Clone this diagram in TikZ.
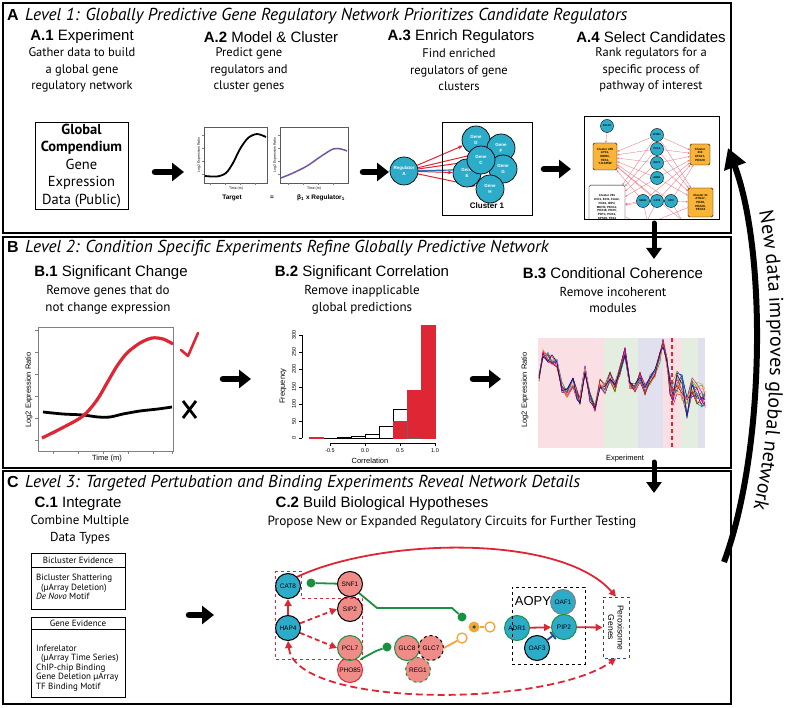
\documentclass[tikz,border=0pt]{standalone}
\usepackage{fontspec}
\setmainfont{PT Sans}
\newfontfamily\arial{Liberation Sans}
\usetikzlibrary{arrows.meta,decorations.text,calc}
\pgfdeclarelayer{behind}
\pgfsetlayers{behind,main}
\definecolor{tealc}{RGB}{45,172,202}
\definecolor{salm}{RGB}{240,140,135}
\definecolor{redc}{RGB}{222,38,52}
\definecolor{greenc}{RGB}{25,145,65}
\definecolor{orangec}{RGB}{245,165,55}
\definecolor{clorange}{RGB}{250,180,55}
\definecolor{lred}{RGB}{240,120,130}
\definecolor{purp}{RGB}{115,85,165}
\definecolor{bgpink}{RGB}{250,224,228}
\definecolor{bggreen}{RGB}{228,238,224}
\definecolor{bglav}{RGB}{224,224,238}
\definecolor{darkblue}{RGB}{40,70,150}
\definecolor{bluec}{RGB}{40,110,185}
\definecolor{dgreen}{RGB}{20,90,40}
\newcommand\fsz[2]{\fontsize{#1}{#2}\selectfont}
\begin{document}
\begin{tikzpicture}[x=1pt,y=-1pt,
  panel/.style={draw=black,line width=1.8pt},
  ptitle/.style={anchor=base west,inner sep=0pt,font=\itshape\fsz{17.3}{19}},
  pletter/.style={anchor=base west,inner sep=0pt,font=\arial\bfseries\fsz{16}{18}},
  hd/.style={inner sep=0pt,font=\arial\fsz{15}{17}},
  body/.style={inner sep=0pt,align=center,font=\fsz{12.5}{16.5}},
  fat/.style={line width=6.5pt,line cap=round,-{Triangle[length=12pt,width=18pt]}},
  vfat/.style={line width=5pt,line cap=round,-{Triangle[length=11pt,width=15pt]}},
  gene/.style={circle,draw=black,line width=0.7pt,fill=tealc,minimum size=28pt,inner sep=0pt,align=center,text=white,font=\arial\bfseries\fsz{4.5}{5.5}},
  tn/.style={circle,draw=black,line width=0.4pt,fill=tealc,minimum size=13pt,inner sep=0pt,font=\arial\bfseries\fsz{2.6}{3}},
  clb/.style={draw=black,line width=0.4pt,rounded corners=1.5pt,fill=clorange,align=center,inner sep=0.6pt,font=\arial\bfseries\fsz{3}{3.7}},
  lr/.style={lred,line width=0.35pt,-{Stealth[length=2.2pt,width=2pt]}},
  rarr/.style={redc,line width=1pt,-{Stealth[length=5pt,width=4pt]}},
  cg/.style={circle,draw=black,line width=1pt,minimum size=25pt,inner sep=0pt,font=\arial\fsz{6.5}{7}},
  cred/.style={redc,line width=1.8pt,-{Triangle[length=7pt,width=7pt]}},
  ball/.style={circle,fill=greenc,minimum size=9pt,inner sep=0pt},
  tiny/.style={inner sep=0pt,font=\arial\fsz{3.5}{4}},
  axl/.style={inner sep=0pt,font=\arial\fsz{7.5}{8}},
  evb/.style={draw=black,line width=0.6pt,minimum width=94pt},
  evt/.style={inner sep=0pt,font=\fsz{9}{9.4}},
]
\begin{pgfonlayer}{behind}
\fill[white] (0,0) rectangle (800,708);
\end{pgfonlayer}
\useasboundingbox (0,0) rectangle (800,708);

% ---------------- panels
\draw[panel] (3,3) rectangle (731,233);
\draw[panel] (3,237) rectangle (731,468);
\draw[panel] (3,471) rectangle (731,704);

% ================= PANEL A
\node[pletter] (la) at (7,21) {A};
\node[ptitle] (ta) at (25,21) {Level 1: Globally Predictive Gene Regulatory Network Prioritizes Candidate Regulators};
\node[hd] (a1h) at (82,37) {\textbf{A.1} Experiment};
\node[hd] (a2h) at (271,37) {\textbf{A.2} Model \& Cluster};
\node[hd] (a3h) at (461,37) {\textbf{A.3} Enrich Regulators};
\node[hd] (a4h) at (651,37) {\textbf{A.4} Select Candidates};
\node[body] (a1t) at (82,70) {Gather data to build\\a global gene\\regulatory network};
\node[body] (a2t) at (249,70) {Predict gene\\regulators and\\cluster genes};
\node[body] (a3t) at (459,70) {Find enriched\\regulators of gene\\clusters};
\node[body] (a4t) at (651,70) {Rank regulators for a\\specific process of\\pathway of interest};

% A.1 box
\node[draw=black,line width=0.7pt,minimum width=93pt,minimum height=87pt,align=center,inner sep=0pt,font=\fsz{14.5}{17.5}] (gc) at (81.5,165.5) {\textbf{Global}\\\textbf{Compendium}\\Gene\\Expression\\Data (Public)};

\coordinate (fa1s) at (155,172); \coordinate (fa1e) at (184,172);
\draw[fat] (fa1s) -- (fa1e);

% A.2 plots
\draw[gray!70!black,line width=0.4pt] (204,127) rectangle (267,183);
\draw[gray!70!black,line width=0.4pt] (280,127) rectangle (348,183);
\foreach \t in {135,148,161,174}{\draw[gray,line width=0.3pt] (204,\t) -- (202,\t); \draw[gray,line width=0.3pt] (280,\t) -- (278,\t);}
\foreach \t in {210,225,240,255}{\draw[gray,line width=0.3pt] (\t,183) -- (\t,185);}
\foreach \t in {288,303,318,333}{\draw[gray,line width=0.3pt] (\t,183) -- (\t,185);}
\draw[black,line width=1.8pt] plot[smooth] coordinates {(205,176) (217,176.5) (226,173) (233,163) (240,149) (248,138) (257,134) (266,137)};
\draw[purp,line width=1.5pt] plot[smooth] coordinates {(281,178) (293,173) (307,166) (320,157) (333,149) (341,149) (347,151)};
\node[tiny,rotate=90] (a2y1) at (199,155) {Log2 Expression Ratio};
\node[tiny,rotate=90] (a2y2) at (275,155) {Log2 Expression Ratio};
\node[tiny] (a2x1) at (236,188.5) {Time (m)};
\node[tiny] (a2x2) at (314,188.5) {Time (m)};
\node[inner sep=0pt,font=\arial\bfseries\fsz{6.5}{7}] (tgt) at (232,198) {Target};
\node[inner sep=0pt,font=\arial\bfseries\fsz{6.5}{7}] (eqs) at (272,198) {=};
\node[inner sep=0pt,font=\arial\bfseries\fsz{6.5}{7}] (breg) at (321,198) {β\textsubscript{1} x Regulator\textsubscript{1}};

\coordinate (fa2s) at (363,172); \coordinate (fa2e) at (389,172);
\draw[fat] (fa2s) -- (fa2e);

% A.3 cluster
\draw[black,line width=0.7pt] (442,122) rectangle (532,215);
\node[inner sep=0pt,font=\arial\bfseries\fsz{8}{9}] (cl1) at (487,206) {Cluster 1};
\node[gene] (rega) at (404,171) {Regulator\\A};
\node[gene] (gD) at (476,140) {Gene\\D};
\node[gene] (gF) at (501,148) {Gene\\F};
\node[gene] (gE) at (467,173) {Gene\\E};
\node[gene] (gG) at (503,169) {Gene\\G};
\node[gene] (gH) at (490,189) {Gene\\H};
\node[gene] (gC) at (481,160) {Gene\\C};
\begin{pgfonlayer}{behind}
\draw[rarr] (rega) -- (gD);
\draw[rarr] (rega) -- (gF);
\draw[rarr] (rega) -- (gC);
\draw[rarr] (rega) -- (gE);
\draw[rarr] (rega) -- (gH);
\draw[bluec,line width=1.2pt] (rega) -- (gG);
\end{pgfonlayer}

\coordinate (fa3s) at (544,169); \coordinate (fa3e) at (571,169);
\draw[fat] (fa3s) -- (fa3e);

% A.4 network
\begin{scope}
\clip (584,117) rectangle (719,220);
\node[tn] (dal) at (607,126) {DAL80};
\node[tn] (wtm) at (657,135) {WTM1};
\node[tn] (pcl) at (657,149) {PCL8};
\node[tn] (rgt) at (657,163) {RGT1};
\node[tn] (adr) at (657,178) {ADR1};
\node[tn] (mbr) at (643,201) {MBR1};
\node[tn] (cat) at (657,201) {CAT8};
\node[tn] (sip) at (671,201) {SIP2};
\node[clb,minimum width=24pt,minimum height=27pt] (c269) at (605,156.5) {Cluster 269\\LPX1,\\MDH3,\\TES1,\\YJL045W};
\node[clb,minimum width=20pt,minimum height=21pt] (c233) at (700,154.5) {Cluster\\233\\ATG17,\\PEX29};
\node[clb,minimum width=25pt,minimum height=29pt] (c31) at (700.5,202.5) {Cluster 31\\ATG17,\\PEX8,\\PEX29,\\PEX34};
\node[clb,fill=white,anchor=north,minimum width=36pt,minimum height=44pt] (c281) at (607,185) {Cluster 281\\DCI1, ECI1, FAA2,\\FOX2, IDP3,\\MDH3, PEX11,\\PEX18, PEX5,\\POT1, POX1,\\SPS19, TES1};
\end{scope}
\begin{pgfonlayer}{behind}
\begin{scope}
\clip (584,117) rectangle (719,220);
\foreach \s in {wtm,pcl,rgt,adr}{\foreach \t in {c269,c233,c31,c281}{\draw[lr] (\s) -- (\t);}}
\foreach \s in {mbr,cat,sip}{\foreach \t in {c269,c233}{\draw[lr] (\s) -- (\t);}}
\draw[lr] (dal) -- (c269);
\draw[lr] (mbr) -- (c281);
\draw[lr] (sip) -- (c31);
\draw[lr] (cat) -- (c281);
\draw[lr] (mbr) -- (650,235); \draw[lr] (cat) -- (640,235); \draw[lr] (sip) -- (690,235);
\draw[lr] (c281) -- (660,235); \draw[lr] (c269) -- (700,235); \draw[lr] (c31) -- (620,235);
\end{scope}
\end{pgfonlayer}
\draw[black,line width=1pt] (584,117) rectangle (719,220);

% panel arrows
\coordinate (vab1) at (654,223); \coordinate (vab2) at (654,259);
\draw[vfat] (vab1) -- (vab2);
\coordinate (vbc1) at (654,462); \coordinate (vbc2) at (654,493);
\draw[vfat] (vbc1) -- (vbc2);

% big feedback arrow
\coordinate (nd1) at (724,562); \coordinate (nd2) at (728,148);
\draw[line width=6pt,-{Triangle[length=20pt,width=22pt]}] (nd1) .. controls (765,452) and (767,252) .. (nd2);
\begin{scope}[y=1pt]
\path[decorate,decoration={text along path,text align=center,text={|\fsz{20}{20}|New data improves global network}}] (745,-160) .. controls (781,-258) and (779,-455) .. (738,-560);
\end{scope}

% ================= PANEL B
\node[pletter] (lb) at (7,253) {B};
\node[ptitle] (tb) at (25,253) {Level 2: Condition Specific Experiments Refine Globally Predictive Network};
\node[hd] (b1h) at (111,273) {\textbf{B.1} Significant Change};
\node[hd] (b2h) at (362,273) {\textbf{B.2} Significant Correlation};
\node[hd] (b3h) at (613,273) {\textbf{B.3} Conditional Coherence};
\node[body,font=\fsz{13}{16.5}] (b1t) at (108,300) {Remove genes that do\\not change expression};
\node[body,font=\fsz{13}{16.5}] (b2t) at (362,300) {Remove inapplicable\\global predictions};
\node[body,font=\fsz{13}{16.5}] (b3t) at (613,300) {Remove incoherent\\modules};

% B.1 plot
\draw[gray,line width=0.5pt] (38,327) rectangle (173,451);
\foreach \t in {330,352,374,396,418,440}{\draw[gray,line width=0.4pt] (38,\t) -- (35,\t);}
\foreach \t in {53,78,103,128,153,172}{\draw[gray,line width=0.4pt] (\t,451) -- (\t,454);}
\node[axl,rotate=90] (b1y) at (29,390) {Log2 Expression Ratio};
\node[axl] (b1x) at (107,459) {Time (m)};
\draw[black,line width=2.8pt] plot[smooth] coordinates {(43,412) (63,414) (83,415) (98,417) (110,417) (123,414) (140,411) (158,409) (172,407)};
\draw[redc,line width=3.2pt] plot[smooth] coordinates {(42,438) (62,428) (83,416) (97,400) (107,383) (117,366) (127,353) (140,343) (152,338) (163,339) (173,344)};
\draw[redc,line width=2.6pt,line join=round,line cap=round] (181,350) -- (188,356) -- (198,333);
\draw[black,line width=2.8pt] (183,401) -- (196,418) (196,401) -- (183,418);

\coordinate (fb1s) at (223,379); \coordinate (fb1e) at (251,379);
\draw[fat] (fb1s) -- (fb1e);

% B.2 histogram
\draw[black,line width=0.4pt] (302,335) -- (302,438);
\foreach \v/\lab in {438/0,421/50,404/100,387/150,369/200,352/250,335/300}{
  \draw[black,line width=0.4pt] (302,\v) -- (299,\v);
  \node[inner sep=0pt,rotate=90,font=\arial\fsz{5.5}{6}] at (294,\v) {\lab};}
\node[axl,rotate=90] (b2y) at (283,386) {Frequency};
\draw[black,line width=0.4pt] (330,443) -- (435,443);
\foreach \v/\lab in {330/-0.5,365/0.0,400/0.5,435/1.0}{
  \draw[black,line width=0.4pt] (\v,443) -- (\v,446);
  \node[inner sep=0pt,font=\arial\fsz{5.5}{6}] at (\v,451) {\lab};}
\node[axl] (b2x) at (370,461) {Correlation};
\foreach \a/\b/\h in {323/337/0.3,337/351/0.7,351/365/1.7,365/379/3.8,379/393/12,393/407/29.2}{
  \draw[black,line width=0.4pt,fill=white] (\a,438) rectangle (\b,438-\h);}
\draw[redc,line width=0.4pt,fill=redc] (309,438) rectangle (323,437.2);
\draw[redc,line width=0.5pt,fill=redc] (393,438) rectangle (407,421.5);
\draw[redc,line width=0.5pt,fill=redc] (407,438) rectangle (421,390);
\draw[redc,line width=0.5pt,fill=redc] (421,438) rectangle (435,325.5);
\draw[black!60,line width=0.3pt] (407,438) -- (421,438) (407,438) -- (407,421.5);

\coordinate (fb2s) at (473,379); \coordinate (fb2e) at (501,379);
\draw[fat] (fb2s) -- (fb2e);

% B.3 plot
\fill[bgpink] (538,338) rectangle (604,448);
\fill[bggreen] (604,338) rectangle (638,448);
\fill[bglav] (638,338) rectangle (663,448);
\fill[bgpink] (663,338) rectangle (681,448);
\fill[bggreen] (681,338) rectangle (698,448);
\fill[bglav] (698,338) rectangle (705,448);
\node[axl,rotate=90] (b3y) at (525,390) {Log2 Expression Ratio};
\node[axl] (b3x) at (625,459) {Experiment};
\pgfmathsetseed{11}
\begin{scope}
\clip (538,338) rectangle (705,448);
\foreach \col in {red,orange,yellow!70!black,green!60!black,teal,blue,violet,magenta,purple,cyan!70!blue,olive,pink!80!red,red!60!black,blue!60!black}{
  \draw[\col,line width=0.45pt,line join=round] (539,{378+4*rand})
  \foreach \px/\py in {543/353,548/357,552/360,557/363,562/387,567/393,573/383,577/395,580/400,585/370,590/397,595/410,600/383,605/390,610/377,615/387,620/370,625/353,630/387,635/387,640/377,645/390,650/380,655/373,660/357,663/342,667/363,670/385,673/393,677/383,682/387,687/410,692/387,697/393,702/397,706/400}
  { -- (\px,{\py+(\px>668 ? 13 : 5.5)*rand}) };
}
\end{scope}
\draw[redc,line width=1.8pt,dash pattern=on 4pt off 3pt] (672,338) -- (672,448);

% ================= PANEL C
\node[pletter] (lc) at (7,487) {C};
\node[ptitle] (tc) at (25,487) {Level 3: Targeted Pertubation and Binding Experiments Reveal Network Details};
\node[hd] (c1h) at (78,504) {\textbf{C.1} Integrate};
\node[body,font=\fsz{13}{17}] (c1t) at (80,529.5) {Combine Multiple\\Data Types};
\node[hd] (c2h) at (382,504) {\textbf{C.2} Build Biological Hypotheses};
\node[body,font=\fsz{13.3}{14}] (c2t) at (452,522) {Propose New or Expanded Regulatory Circuits for Further Testing};

% evidence boxes
\node[evb,minimum height=56pt] (bicl) at (78,581) {};
\draw[black,line width=0.6pt] ($(bicl.north west)+(0,15)$) -- ($(bicl.north east)+(0,15)$);
\node[evt] (biclh) at (78,560.5) {Bicluster Evidence};
\node[evt,anchor=north west,align=left] (biclb) at (36,574) {Bicluster Shattering\\\hspace{5pt}(µArray Deletion)\\\textit{De Novo} Motif};
\node[evb,minimum height=80pt] (genev) at (78,657) {};
\draw[black,line width=0.6pt] ($(genev.north west)+(0,13)$) -- ($(genev.north east)+(0,13)$);
\node[evt] (genevh) at (78,623.5) {Gene Evidence};
\node[evt,anchor=north west,align=left] (genevb) at (36,645) {Inferelator\\\hspace{5pt}(µArray Time Series)\\ChIP-chip Binding\\Gene Deletion µArray\\TF Binding Motif};

\coordinate (fc1s) at (189,615); \coordinate (fc1e) at (214,615);
\draw[fat] (fc1s) -- (fc1e);

% C.2 network
\node[cg,fill=tealc] (cat8) at (288,586) {CAT8};
\node[cg,fill=tealc] (hap4) at (288,628) {HAP4};
\node[cg,fill=salm] (snf1) at (350,584) {SNF1};
\node[cg,fill=salm] (sip2) at (350,609) {SIP2};
\node[cg,fill=salm,draw=redc] (pho85) at (350,670) {PHO85};
\node[cg,fill=salm,draw=greenc] (pcl7) at (350,648) {PCL7};
\node[cg,fill=salm,draw=greenc,dashed] (reg1) at (418,670) {REG1};
\node[cg,fill=salm,draw=greenc] (glc8) at (407,648) {GLC8};
\node[cg,fill=salm,dashed] (glc7) at (431,648) {GLC7};
\node[cg,fill=tealc,draw=greenc] (adr1) at (517,628) {ADR1};
\node[cg,fill=tealc,draw=gray] (oaf1) at (563,602) {OAF1};
\node[cg,fill=tealc,draw=greenc] (pip2) at (564,627) {PIP2};
\node[cg,fill=tealc] (oaf3) at (537,648) {OAF3};
\node[draw=darkblue,dashed,line width=0.9pt,rotate=-90,minimum width=61pt,minimum height=26pt,align=center,inner sep=0pt,font=\arial\fsz{8.5}{9.5}] (perox) at (616,627.5) {Peroxisome\\Genes};
\node[draw=black,dashed,line width=1pt,minimum width=73pt,minimum height=77pt] (aopy) at (548.5,625.5) {};
\node[inner sep=0pt,font=\arial\fsz{13}{14}] (aopyl) at (533,601) {AOPY};
\draw[redc,dashed,line width=0.9pt] (275,571) -- (301,571) -- (301,598) -- (362,598) -- (362,659) -- (275,659) -- cycle;

\node[ball] (b1) at (311,583) {};
\node[ball] (b2) at (462,617) {};
\node[ball] (b3) at (387,647) {};
\draw[greenc,line width=1.8pt] (snf1) -- (b1);
\coordinate (g1) at (377,608); \coordinate (g2) at (452,608);
\draw[greenc,line width=1.8pt,line join=round] (snf1.south east) -- (g1) -- (g2) -- (b2);
\coordinate (g3) at (376,651);
\draw[greenc,line width=1.8pt,line join=round] ($(pcl7)!0.5!(pho85)+(11,0)$) -- (g3) -- (b3);
\node[circle,fill=orangec,minimum size=11pt,inner sep=0pt] (ob) at (474,627) {};
\node[circle,fill=dgreen,minimum size=3.5pt,inner sep=0pt] (obd) at (474,627) {};
\node[circle,draw=orangec,line width=1.3pt,fill=white,minimum size=10pt,inner sep=0pt] (oc1) at (490,627) {};
\node[circle,draw=orangec,line width=1.3pt,fill=white,minimum size=10pt,inner sep=0pt] (oc2) at (462,638) {};
\draw[orangec,line width=1.3pt] (ob) -- (oc1);
\draw[orangec,line width=1.8pt] (glc7.east) -- (oc2);
\draw[cred] (adr1) -- (pip2);
\draw[cred] (pip2) -- (perox.south);
\draw[cred] (hap4) -- (cat8);
\draw[cred,dash pattern=on 5pt off 3pt] (hap4) -- (sip2.west);
\draw[cred,dash pattern=on 5pt off 3pt] (hap4) -- (pcl7.west);
\draw[darkblue,line width=1.8pt,-{Bar[width=9pt]}] (oaf3) -- (pip2);
\draw[cred] (cat8.north east) .. controls (380,538) and (560,533) .. (perox.west);
\draw[redc,line width=1.8pt,dash pattern=on 7pt off 4pt,{Triangle[length=7pt,width=7pt]}-{Triangle[length=7pt,width=7pt]}] (hap4.south) .. controls (295,708) and (545,708) .. (perox.east);
\end{tikzpicture}
\end{document}
